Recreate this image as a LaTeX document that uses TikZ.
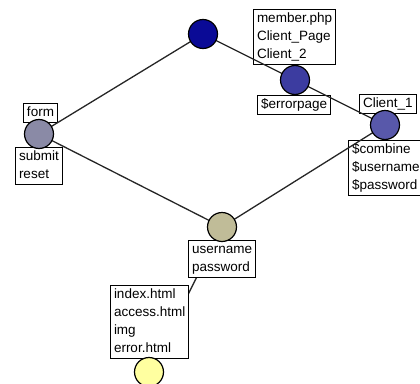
\documentclass[tikz,border=0pt]{standalone}
\usepackage{fontspec}
\setmainfont{Liberation Sans}
\pgfdeclarelayer{low}
\pgfdeclarelayer{boxes}
\pgfdeclarelayer{edges}
\pgfsetlayers{low,boxes,edges,main}
\definecolor{navyball}{RGB}{10,10,150}
\definecolor{formball}{RGB}{138,138,166}
\definecolor{ctwoball}{RGB}{60,60,160}
\definecolor{coneball}{RGB}{88,88,170}
\definecolor{userball}{RGB}{192,188,152}
\definecolor{fileball}{RGB}{255,255,160}
\newcommand\rowtext[1]{\strut#1}
\tikzset{
  ball/.style={circle, draw=black, line width=1.2pt, minimum size=29pt, inner sep=0pt},
  tag/.style={draw=black, line width=1pt, fill=white, anchor=north west, align=left,
    inner xsep=3.5pt, inner ysep=0.5pt,
    font=\fontsize{13.5pt}{18pt}\selectfont},
  link/.style={draw=black!85, line width=1.3pt}
}
\begin{document}
\begin{tikzpicture}[x=1pt,y=-1pt]
\useasboundingbox (0,0) rectangle (420,383);
\clip (0,0) rectangle (420,383);
% page nodes
\node[ball, fill=navyball] (ntop) at (203,34) {};
\node[ball, fill=formball] (nform) at (39,134) {};
\node[ball, fill=ctwoball] (nc2) at (295,80) {};
\node[ball, fill=coneball] (nc1) at (385,125) {};
\node[ball, fill=userball] (nuser) at (222,227) {};
\node[ball, fill=fileball] (nfile) at (149,372) {};
% variable lists
\begin{pgfonlayer}{boxes}
\node[tag] (lform) at (23,103) {\rowtext{form}};
\node[tag] (lsubmit) at (15,147) {\rowtext{submit}\\\rowtext{reset}};
\node[tag] (lmember) at (253,9) {\rowtext{member.php}\\\rowtext{Client\_Page}\\\rowtext{Client\_2}};
\node[tag] (lerror) at (257,95) {\rowtext{\$errorpage}};
\node[tag] (lclient) at (359,94) {\rowtext{Client\_1}};
\node[tag] (lcombine) at (348,140) {\rowtext{\$combine}\\\rowtext{\$username}\\\rowtext{\$password}};
\node[tag] (luser) at (188,240) {\rowtext{username}\\\rowtext{password}};
\node[tag] (lindex) at (110,285) {\rowtext{index.html}\\\rowtext{access.html}\\\rowtext{img}\\\rowtext{error.html}};
\end{pgfonlayer}
% connectors
\begin{pgfonlayer}{low}
\draw[link] (nuser.center) -- (nfile.center);
\end{pgfonlayer}
\begin{pgfonlayer}{edges}
\draw[link] (ntop.center) -- (nform.center);
\draw[link] (ntop.center) -- (nc2.center);
\draw[link] (nc2.center) -- (nc1.center);
\draw[link] (nform.center) -- (nuser.center);
\draw[link] (nuser.center) -- (nc1.center);
\end{pgfonlayer}
\end{tikzpicture}
\end{document}
